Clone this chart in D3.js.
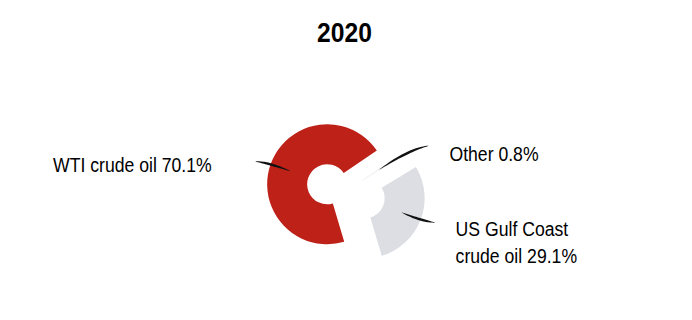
<!DOCTYPE html>
<html>
<head>
<meta charset="utf-8">
<script src="https://cdn.jsdelivr.net/npm/d3@7/dist/d3.min.js"></script>
<style>
  body { margin: 0; background: #fff; }
  text { font-family: "Liberation Sans", Arial, sans-serif; fill: #000; }
</style>
</head>
<body>
<script>
const width = 692;
const height = 320;

// data
const title = "2020";
const categories = ["WTI crude oil", "Other", "US Gulf Coast crude oil"];
const shares = [70.1, 0.8, 29.1];
const labelLines = [["WTI crude oil 70.1%"], ["Other 0.8%"], ["US Gulf Coast", "crude oil 29.1%"]];

const colors = ["#be2118", "#f4f4f5", "#dddee3"];

// layout
const center = {x: 346, y: 191};
const innerR = 20;
const outerR = 60;
const explode = [20, 0, 20];
const leaderR = [75, 94, 74];      // where each leader line ends
const leaderNudge = [-2, 4, -2];   // degrees
const labelGap = [44, 21, 21];
const labelDy = [11, 15, 14];
const narrow = 0.84;               // the original font is a condensed face

const rad = Math.PI / 180;

const svg = d3.select("body")
      .append("svg")
      .attr("width", width)
      .attr("height", height);

svg.append("g")
      .attr("transform", `translate(344.5, 42) scale(0.88, 1)`)
      .append("text")
      .attr("text-anchor", "middle")
      .style("font-size", "28px")
      .style("font-weight", "bold")
      .text(title);

const pie = d3.pie()
      .sort(null)
      .startAngle(163.5 * rad)
      .endAngle(523.5 * rad)
      .value(d => d.share);

const arc = d3.arc()
      .innerRadius(innerR)
      .outerRadius(outerR);

const data = categories.map((c, i) => ({category: c, share: shares[i], i: i}));
const arcs = pie(data);

const polar = (a, r) => [Math.sin(a) * r, -Math.cos(a) * r];

const slices = svg.append("g")
      .attr("transform", `translate(${center.x}, ${center.y})`);

slices.selectAll("path")
      .data(arcs)
      .enter()
      .append("path")
      .attr("fill", d => colors[d.data.i])
      .attr("transform", d => {
            const mid = (d.startAngle + d.endAngle) / 2;
            const [dx, dy] = polar(mid, explode[d.data.i]);
            return `translate(${dx}, ${dy})`;
      })
      .attr("d", arc);

// tapered leader line along a quadratic curve
function taper(p0, p1, p2, w) {
      const n = 24;
      const left = [], right = [];
      for (let k = 0; k <= n; k++) {
            const t = k / n;
            const x = (1 - t) * (1 - t) * p0[0] + 2 * (1 - t) * t * p1[0] + t * t * p2[0];
            const y = (1 - t) * (1 - t) * p0[1] + 2 * (1 - t) * t * p1[1] + t * t * p2[1];
            const tx = 2 * (1 - t) * (p1[0] - p0[0]) + 2 * t * (p2[0] - p1[0]);
            const ty = 2 * (1 - t) * (p1[1] - p0[1]) + 2 * t * (p2[1] - p1[1]);
            const len = Math.hypot(tx, ty) || 1;
            const half = 0.2 + w / 2 * Math.sin(Math.PI * t);
            left.push([x - ty / len * half, y + tx / len * half]);
            right.push([x + ty / len * half, y - tx / len * half]);
      }
      return d3.line()(left.concat(right.reverse())) + "Z";
}

const leaders = arcs.map(d => {
      const i = d.data.i;
      const mid = (d.startAngle + d.endAngle) / 2;
      const off = polar(mid, explode[i]);
      const c = arc.centroid(d);
      const start = [center.x + off[0] + c[0], center.y + off[1] + c[1]];
      const e = polar(mid + leaderNudge[i] * rad, leaderR[i]);
      const end = [center.x + off[0] + e[0], center.y + off[1] + e[1]];
      const ctrl = [start[0] + 0.6 * (end[0] - start[0]), start[1] + 0.85 * (end[1] - start[1])];
      return {i, mid, start, ctrl, end};
});

svg.append("g")
      .selectAll("path")
      .data(leaders)
      .enter()
      .append("path")
      .attr("fill", "#111")
      .attr("d", d => taper(d.start, d.ctrl, d.end, 2.1));

const labels = svg.append("g")
      .selectAll("g")
      .data(leaders)
      .enter()
      .append("g")
      .attr("transform", d => {
            const x = d.end[0] + (Math.sin(d.mid) < 0 ? -labelGap[d.i] : labelGap[d.i]);
            return `translate(${x}, ${d.end[1] + labelDy[d.i]}) scale(${narrow}, 1)`;
      })
      .append("text")
      .style("font-size", "21px")
      .attr("text-anchor", d => Math.sin(d.mid) < 0 ? "end" : "start");

labels.selectAll("tspan")
      .data(d => labelLines[d.i])
      .enter()
      .append("tspan")
      .attr("x", 0)
      .attr("dy", (t, k) => k === 0 ? 0 : 27)
      .text(t => t);
</script>
</body>
</html>
